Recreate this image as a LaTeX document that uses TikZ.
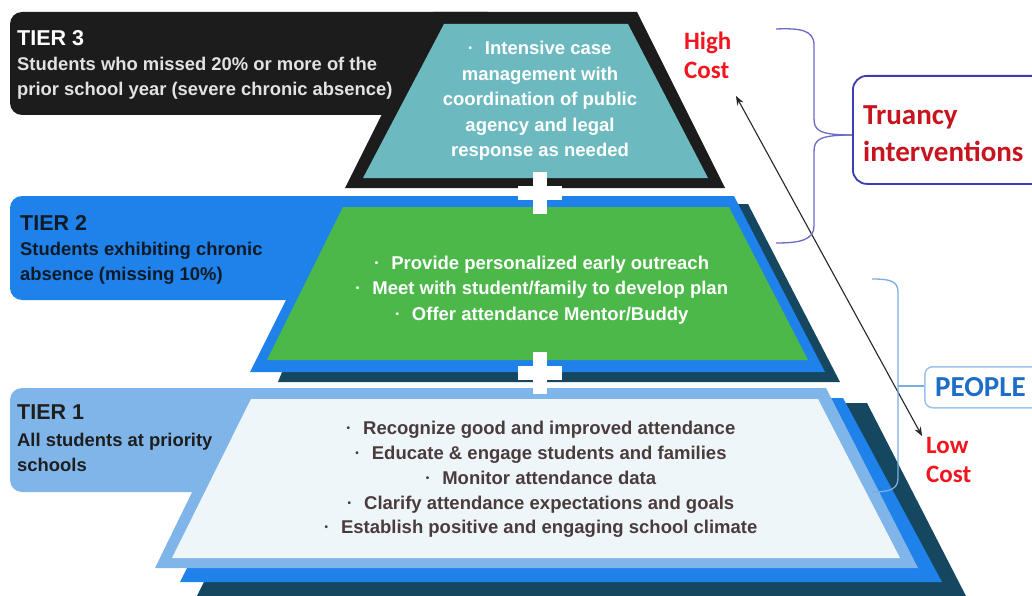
\documentclass[tikz,border=0pt]{standalone}
\usepackage{fontspec}
\setmainfont{Liberation Sans}
\newfontfamily\calfont{Carlito}
\usetikzlibrary{arrows.meta}
\definecolor{blackT}{HTML}{1C1C1C}
\definecolor{tealT}{HTML}{6DB9C0}
\definecolor{blueT}{HTML}{1F82EA}
\definecolor{greenT}{HTML}{4CB84A}
\definecolor{navyT}{HTML}{154760}
\definecolor{lblueT}{HTML}{80B5EA}
\definecolor{paleT}{HTML}{EEF6FA}
\definecolor{grayT}{HTML}{E2E2E2}
\definecolor{darkTwo}{HTML}{0E1A26}
\definecolor{darkOne}{HTML}{1E1E1E}
\definecolor{brownT}{HTML}{4A3C3C}
\definecolor{costred}{HTML}{F2141E}
\definecolor{trured}{HTML}{C8141E}
\definecolor{purpbox}{HTML}{3C3CB4}
\definecolor{purpbrace}{HTML}{6A6AC8}
\definecolor{pplblue}{HTML}{1E6EC8}
\definecolor{pplbox}{HTML}{9DC4EC}
\definecolor{pplbrace}{HTML}{7AAEE0}
\newcommand\bu{\raisebox{0.16em}{\fontsize{10}{10}\selectfont•}\hspace{0.7em}}
\tikzset{
  ttl/.style={font=\fontsize{21.5}{24}\selectfont\bfseries, inner sep=0pt, anchor=west},
  lbl/.style={font=\fontsize{18.4}{25}\selectfont\bfseries, align=left, inner sep=0pt, anchor=west},
  bul/.style={font=\fontsize{18.5}{25.5}\selectfont\bfseries, align=center, inner sep=0pt},
  cost/.style={font=\calfont\bfseries\fontsize{25}{29}\selectfont, text=costred, align=left, inner sep=0pt, anchor=west},
  brace/.style={line width=1.3pt},
}
\begin{document}
\begin{tikzpicture}[x=1pt,y=-1pt]
\useasboundingbox (0,0) rectangle (1032,596);
\clip (0,0) rectangle (1032,596);
\fill[white] (0,0) rectangle (1032,596);
% ---- Tier 1
\fill[navyT] (293,403) -- (867,403) -- (968,600) -- (195,600) -- cycle;
\fill[blueT] (272,398) -- (843,398) -- (942,582) -- (180,582) -- cycle;
\fill[lblueT, rounded corners=12] (10,388) rectangle (600,492);
\fill[lblueT] (243,388) -- (826,388) -- (918,568) -- (155,568) -- cycle;
\fill[paleT] (251,399) -- (818,399) -- (900,558) -- (172,558) -- cycle;
% ---- Tier 2
\fill[navyT] (350,204) -- (748,204) -- (840,382) -- (278,382) -- cycle;
\fill[blueT, rounded corners=12] (10,196) rectangle (500,300);
\fill[blueT] (338,196) -- (734,196) -- (825,372) -- (250,372) -- cycle;
\fill[greenT] (343,207) -- (729,207) -- (808,360) -- (267,360) -- cycle;
% ---- Tier 3
\fill[blackT, rounded corners=12] (10,12) rectangle (500,115);
\fill[blackT] (433,12) -- (637,12) -- (725,188) -- (345,188) -- cycle;
\fill[tealT] (444,24) -- (628,24) -- (708,178) -- (363,178) -- cycle;
% ---- plus signs
\fill[white] (533,172) rectangle (547,214);
\fill[white] (518,186) rectangle (562,200);
\fill[white] (533,352) rectangle (547,394);
\fill[white] (518,366) rectangle (562,380);
% ---- tier labels
\node[ttl, text=white] (t3) at (17,38) {TIER 3};
\node[lbl, text=grayT] (t3d) at (17,78) {Students who missed 20\% or more of the\\prior school year (severe chronic absence)};
\node[ttl, text=darkTwo] (t2) at (20,223) {TIER 2};
\node[lbl, text=darkTwo] (t2d) at (20,263) {Students exhibiting chronic\\absence (missing 10\%)};
\node[ttl, text=darkOne] (t1) at (17,412) {TIER 1};
\node[lbl, text=darkOne] (t1d) at (17,452.5) {All students at priority\\schools};
% ---- bullets
\node[bul, text=white] (b3) at (540,101) {\bu Intensive case\\management with\\coordination of public\\agency and legal\\response as needed};
\node[bul, text=white] (b2) at (542,290) {\bu Provide personalized early outreach\\\bu Meet with student/family to develop plan\\\bu Offer attendance Mentor/Buddy};
\node[bul, text=brownT, font=\fontsize{18.5}{24.8}\selectfont\bfseries] (b1) at (541,479.5) {\bu Recognize good and improved attendance\\\bu Educate \& engage students and families\\\bu Monitor attendance data\\\bu Clarify attendance expectations and goals\\\bu Establish positive and engaging school climate};
% ---- cost labels and arrow
\node[cost] (hi) at (684,55.5) {High\\Cost};
\node[cost] (lo) at (926,460) {Low\\Cost};
\coordinate (hiTip) at (736,96);
\coordinate (loTip) at (922,436);
\draw[{Stealth[length=9pt,width=7pt]}-{Stealth[length=9pt,width=7pt]}, line width=1.1pt, black!85] (hiTip) -- (loTip);
% ---- truancy box and brace
\node[draw=purpbox, line width=1.8pt, rounded corners=14, minimum width=210pt, minimum height=108pt, anchor=north west, inner sep=0pt] (tru) at (852,75) {};
\node[font=\calfont\bfseries\fontsize{29}{37}\selectfont, text=trured, align=left, inner sep=0pt, anchor=west] (trut) at (863,133.5) {Truancy\\interventions};
\coordinate (tbTop) at (776,29);
\coordinate (tbBot) at (776,243);
\coordinate (tbTip) at (852,135);
\draw[brace, purpbrace] (tbTop) .. controls (800,28) and (814,30) .. (814,45) -- (814,118) .. controls (814,130) and (818,135) .. (tbTip);
\draw[brace, purpbrace] (tbTip) .. controls (818,135) and (814,140) .. (814,152) -- (814,226) .. controls (814,240) and (800,243) .. (tbBot);
% ---- people box and brace
\node[draw=pplbox, line width=1.5pt, rounded corners=8, minimum width=130pt, minimum height=41pt, anchor=north west, inner sep=0pt] (ppl) at (924,366) {};
\node[font=\calfont\bfseries\fontsize{29}{30}\selectfont, text=pplblue, inner sep=0pt, anchor=west] (pplt) at (935,387) {PEOPLE};
\coordinate (pbTop) at (872,279);
\coordinate (pbBot) at (872,492);
\coordinate (pbTip) at (924,386);
\draw[brace, pplbrace] (pbTop) .. controls (890,279) and (898,281) .. (898,292) -- (898,478) .. controls (898,489) and (890,492) .. (pbBot);
\draw[brace, pplbrace] (898,386) -- (pbTip);
\end{tikzpicture}
\end{document}
